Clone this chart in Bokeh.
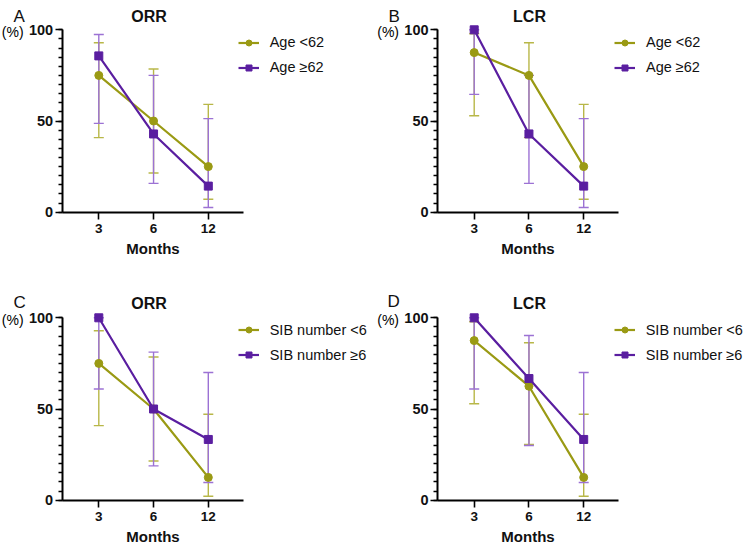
from bokeh.plotting import figure
from bokeh.models import (ColumnDataSource, Whisker, TeeHead, Legend, LegendItem,
                          Label, FixedTicker, Range1d)
from bokeh.layouts import column, row
from bokeh.embed import file_html
from bokeh.resources import INLINE

months = ["3", "6", "12"]

# Panel A: ORR by age
a_lo_val = [75.0, 50.0, 25.0]
a_lo_low = [40.9, 21.5, 7.1]
a_lo_up = [92.9, 78.5, 59.1]
a_hi_val = [85.7, 42.9, 14.3]
a_hi_low = [48.7, 15.8, 2.6]
a_hi_up = [97.4, 75.0, 51.3]

# Panel B: LCR by age
b_lo_val = [87.5, 75.0, 25.0]
b_lo_low = [52.9, 40.9, 7.1]
b_lo_up = [97.8, 92.9, 59.1]
b_hi_val = [100.0, 42.9, 14.3]
b_hi_low = [64.6, 15.8, 2.6]
b_hi_up = [100.0, 75.0, 51.3]

# Panel C: ORR by SIB number
c_lo_val = [75.0, 50.0, 12.5]
c_lo_low = [40.9, 21.5, 2.2]
c_lo_up = [92.9, 78.5, 47.1]
c_hi_val = [100.0, 50.0, 33.3]
c_hi_low = [61.0, 18.8, 9.7]
c_hi_up = [100.0, 81.2, 70.0]

# Panel D: LCR by SIB number
d_lo_val = [87.5, 62.5, 12.5]
d_lo_low = [52.9, 30.6, 2.2]
d_lo_up = [97.8, 86.3, 47.1]
d_hi_val = [100.0, 66.7, 33.3]
d_hi_low = [61.0, 30.0, 9.7]
d_hi_up = [100.0, 90.3, 70.0]

OLIVE = "#9A9A14"
OLIVE_ERR = "#B8B748"
PURPLE = "#5A1EA0"
PURPLE_ERR = "#9C72D4"
FONT = "Liberation Sans"

PX_X = 54.75   # pixels per category step
PX_Y = 1.824   # pixels per percent
Y0 = 211.7     # pixel row of y = 0 from figure top
X_BOUNDS = (-0.67, 2.64)


def make_panel(letter, letter_xy, title, title_xy, series, legend_labels,
               width, height, x0, leg_xy):
    xs = list(range(len(months)))
    x_range = Range1d(-x0 / PX_X, (width - x0) / PX_X)
    y_range = Range1d(-(height - Y0) / PX_Y, Y0 / PX_Y)
    p = figure(width=width, height=height, x_range=x_range, y_range=y_range,
               output_backend="svg", toolbar_location=None,
               min_border=0, min_border_left=0, min_border_right=0,
               min_border_top=0, min_border_bottom=0)
    p.title.visible = False
    p.outline_line_color = None
    p.grid.visible = False
    p.background_fill_color = None
    p.border_fill_color = None

    yax = p.yaxis[0]
    xax = p.xaxis[0]
    yax.fixed_location = X_BOUNDS[0]
    xax.fixed_location = 0
    yax.bounds = (0, 100)
    xax.bounds = X_BOUNDS
    yax.ticker = FixedTicker(ticks=[0, 50, 100], minor_ticks=list(range(0, 101, 5)))
    xax.ticker = FixedTicker(ticks=xs, minor_ticks=[])
    xax.major_label_overrides = {i: m for i, m in zip(xs, months)}
    for ax in (xax, yax):
        ax.axis_line_width = 2
        ax.axis_line_color = "black"
        ax.major_tick_line_width = 1.6
        ax.major_tick_line_color = "black"
        ax.major_tick_out = 7
        ax.major_tick_in = 0
        ax.major_label_text_font = FONT
        ax.major_label_text_font_style = "bold"
        ax.major_label_text_color = "#111111"
    yax.major_label_text_font_size = "14.5px"
    xax.major_label_text_font_size = "13.5px"
    yax.minor_tick_line_width = 1.4
    yax.minor_tick_line_color = "black"
    yax.minor_tick_out = 4
    yax.minor_tick_in = 0
    yax.major_label_standoff = 2
    xax.major_label_standoff = 5
    xax.axis_label = "Months"
    xax.axis_label_text_font = FONT
    xax.axis_label_text_font_style = "bold"
    xax.axis_label_text_font_size = "15px"
    xax.axis_label_text_color = "#111111"
    xax.axis_label_standoff = 3

    styles = [(OLIVE, OLIVE_ERR, "circle"), (PURPLE, PURPLE_ERR, "square")]
    srcs = []
    for (vals, lows, ups), (col, ecol, mk) in zip(series, styles):
        src = ColumnDataSource(dict(x=xs, y=vals, lo=lows, up=ups))
        w = Whisker(base="x", lower="lo", upper="up", source=src,
                    line_color=ecol, line_width=1.4,
                    upper_head=TeeHead(size=10, line_color=ecol, line_width=1.4),
                    lower_head=TeeHead(size=10, line_color=ecol, line_width=1.4))
        p.add_layout(w)
        srcs.append(src)
    leg_items = []
    for src, (col, ecol, mk), lab in zip(srcs, styles, legend_labels):
        ln = p.line("x", "y", source=src, line_color=col, line_width=2.2)
        sc = p.scatter("x", "y", source=src, marker=mk, size=8,
                       fill_color=col, line_color=col)
        leg_items.append(LegendItem(label=lab, renderers=[ln, sc]))
    leg_top = leg_xy[1] - 10
    leg = Legend(items=leg_items, location=(leg_xy[0], height - leg_top - 45),
                 orientation="vertical", border_line_color=None,
                 background_fill_alpha=0, padding=0, margin=0, spacing=5,
                 glyph_width=21, glyph_height=15, label_height=20,
                 label_standoff=11, label_text_font=FONT, label_text_font_size="14.5px",
                 label_text_color="#111111")
    p.add_layout(leg, "center")

    p.add_layout(Label(x=letter_xy[0], y=height - letter_xy[1], x_units="screen",
                       y_units="screen", text=letter, text_font=FONT,
                       text_font_size="17px", text_baseline="alphabetic",
                       text_align="left", text_color="#111111"))
    p.add_layout(Label(x=title_xy[0], y=height - title_xy[1], x_units="screen",
                       y_units="screen", text=title, text_font=FONT,
                       text_font_size="16px", text_font_style="bold",
                       text_baseline="alphabetic", text_align="center",
                       text_color="#111111"))
    p.add_layout(Label(x=X_BOUNDS[0], y=100, x_offset=-38.5, y_offset=-2, y_units="data",
                       text="(%)", text_font=FONT, text_font_size="14px",
                       text_font_style="normal",
                       text_baseline="middle", text_align="right",
                       text_color="#000000", text_alpha=1.0))
    return p


H1 = 288
H2 = 546 - H1
W1 = 372
W2 = 372

pA = make_panel("A", (13, 15.5), "ORR", (148.5, 15.5),
                [(a_lo_val, a_lo_low, a_lo_up), (a_hi_val, a_hi_low, a_hi_up)],
                ["Age <62", "Age \u226562"], W1, H1, 98.3, (237.7, 42.3))
pB = make_panel("B", (16, 15.5), "LCR", (157, 15.5),
                [(b_lo_val, b_lo_low, b_lo_up), (b_hi_val, b_hi_low, b_hi_up)],
                ["Age <62", "Age \u226562"], W2, H1, 101.7, (242, 42.3))
pC = make_panel("C", (13, 13.5), "ORR", (148.5, 14.5),
                [(c_lo_val, c_lo_low, c_lo_up), (c_hi_val, c_hi_low, c_hi_up)],
                ["SIB number <6", "SIB number \u22656"], W1, H2, 98.3, (237.7, 41.7))
pD = make_panel("D", (15, 13), "LCR", (157, 14.5),
                [(d_lo_val, d_lo_low, d_lo_up), (d_hi_val, d_hi_low, d_hi_up)],
                ["SIB number <6", "SIB number \u22656"], W2, H2, 101.7, (241.7, 41.7))

layout = column(row(pA, pB), row(pC, pD))
open("out.html", "w").write(file_html(layout, INLINE))
